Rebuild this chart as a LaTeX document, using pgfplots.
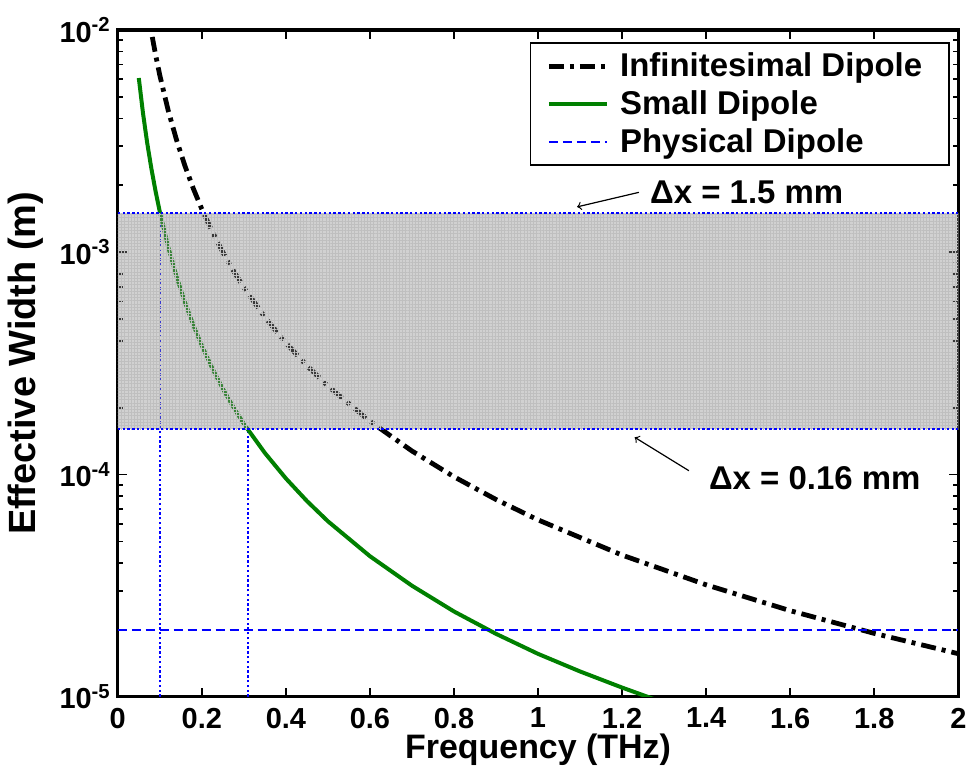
\documentclass[border=0pt]{standalone}
\usepackage{fontspec}
\setmainfont{Liberation Sans}
\usepackage{pgfplots}
\pgfplotsset{compat=1.18}
\usetikzlibrary{patterns.meta}
\definecolor{mgreen}{rgb}{0,0.5,0}
\definecolor{mblue}{rgb}{0,0,1}

% effective width vs frequency
\pgfplotstableread{
f      w
0.05   6.08e-3
0.06   4.22e-3
0.07   3.10e-3
0.08   2.375e-3
0.09   1.877e-3
0.10   1.52e-3
0.12   1.056e-3
0.14   7.76e-4
0.16   5.94e-4
0.18   4.69e-4
0.20   3.80e-4
0.225  3.00e-4
0.25   2.43e-4
0.275  2.01e-4
0.30   1.69e-4
0.35   1.25e-4
0.40   9.60e-5
0.45   7.60e-5
0.50   6.16e-5
0.60   4.29e-5
0.70   3.16e-5
0.80   2.42e-5
0.90   1.92e-5
1.00   1.56e-5
1.10   1.30e-5
1.20   1.10e-5
1.30   9.40e-6
}\smalldip

\pgfplotstableread{
f      w
0.07   1.276e-2
0.08   9.77e-3
0.09   7.72e-3
0.10   6.25e-3
0.12   4.34e-3
0.14   3.19e-3
0.16   2.44e-3
0.18   1.929e-3
0.20   1.5625e-3
0.225  1.235e-3
0.25   1.00e-3
0.275  8.26e-4
0.30   6.94e-4
0.35   5.10e-4
0.40   3.91e-4
0.45   3.09e-4
0.50   2.50e-4
0.60   1.736e-4
0.70   1.276e-4
0.80   9.77e-5
0.90   7.72e-5
1.00   6.25e-5
1.20   4.34e-5
1.40   3.19e-5
1.60   2.44e-5
1.80   1.929e-5
2.00   1.5625e-5
}\infdip

\begin{document}
\begin{tikzpicture}
\begin{axis}[
    scale only axis,
    width=421pt, height=334pt,
    xmin=0, xmax=2,
    ymin=1e-5, ymax=1e-2,
    ymode=log, log basis y=10,
    xtick={0,0.2,0.4,0.6,0.8,1,1.2,1.4,1.6,1.8,2},
    xticklabels={0,0.2,0.4,0.6,0.8,1,1.2,1.4,1.6,1.8,2},
    ytick={1e-5,1e-4,1e-3,1e-2},
    yticklabels={10\textsuperscript{-5},10\textsuperscript{-4},10\textsuperscript{-3},10\textsuperscript{-2}},
    minor ytick={2e-5,3e-5,4e-5,5e-5,6e-5,7e-5,8e-5,9e-5,
                 2e-4,3e-4,4e-4,5e-4,6e-4,7e-4,8e-4,9e-4,
                 2e-3,3e-3,4e-3,5e-3,6e-3,7e-3,8e-3,9e-3},
    tick align=inside,
    major tick length=4.5pt, minor tick length=2.5pt,
    every tick/.style={black, line width=0.9pt},
    axis line style={line width=1.6pt},
    tick label style={font=\fontsize{14.5}{17}\selectfont\bfseries},
    xticklabel style={yshift=-2pt},
    xlabel={Frequency (THz)},
    ylabel={Effective Width (m)},
    xlabel style={font=\fontsize{17}{20}\selectfont\bfseries, at={(axis description cs:0.5,0)}, yshift=-26.5pt, anchor=center},
    ylabel style={font=\fontsize{19}{22}\selectfont\bfseries, at={(axis description cs:-0.110,0.5)}, anchor=center},
    legend style={at={(0.990,0.982)}, anchor=north east, draw=black, line width=0.8pt,
        font=\fontsize{16.5}{20}\selectfont\bfseries, row sep=1.5pt, inner xsep=8pt, inner ysep=3pt,
        nodes={inner xsep=5.5pt}},
    legend cell align=left,
    legend image code/.code={\draw[#1] (0pt,0pt) -- (29pt,0pt);},
]
% vertical guide lines
\addplot[forget plot, mblue, line width=1.2pt, dash pattern=on 1.2pt off 1.2pt] coordinates {(0.1,1e-5) (0.1,1.5e-3)};
\addplot[forget plot, mblue, line width=1.2pt, dash pattern=on 1.2pt off 1.2pt] coordinates {(0.31,1e-5) (0.31,1.6e-4)};

\addplot[black, line width=2.4pt, dash pattern=on 7.5pt off 3pt on 2pt off 3pt] table[x=f,y=w] {\infdip};
\addlegendentry{Infinitesimal Dipole}
\addplot[mgreen, line width=2pt] table[x=f,y=w] {\smalldip};
\addlegendentry{Small Dipole}
\addplot[mblue, line width=1pt, dash pattern=on 4.5pt off 2.5pt] coordinates {(0,2e-5) (2,2e-5)};
\addlegendentry{Physical Dipole}

% shaded band between the two cell sizes
\addplot[forget plot, draw=none, fill=black!45, fill opacity=0.4,
    postaction={pattern={Hatch[angle=0,distance=1.6pt,line width=0.25pt]}, pattern color=black!25}]
    coordinates {(0,1.6e-4) (2,1.6e-4) (2,1.5e-3) (0,1.5e-3)} -- cycle;
\addplot[forget plot, mblue, line width=1.2pt, dash pattern=on 1.2pt off 1.2pt] coordinates {(0,1.5e-3) (2,1.5e-3)};
\addplot[forget plot, mblue, line width=1.2pt, dash pattern=on 1.2pt off 1.2pt] coordinates {(0,1.6e-4) (2,1.6e-4)};

\draw[->, line width=0.6pt] (axis cs:1.24,1.86e-3) -- (axis cs:1.093,1.60e-3);
\node[anchor=west, font=\fontsize{16.5}{19}\selectfont\bfseries] at (axis cs:1.25,1.86e-3) {Δx = 1.5 mm};
\draw[->, line width=0.6pt] (axis cs:1.359,1.04e-4) -- (axis cs:1.230,1.47e-4);
\node[anchor=west, font=\fontsize{16.5}{19}\selectfont\bfseries] at (axis cs:1.39,9.6e-5) {Δx = 0.16 mm};
\end{axis}
\path (current axis.south west) ++(-59pt,-40pt);
\path (current axis.north east) ++(6.5pt,15pt);
\end{tikzpicture}
\end{document}
